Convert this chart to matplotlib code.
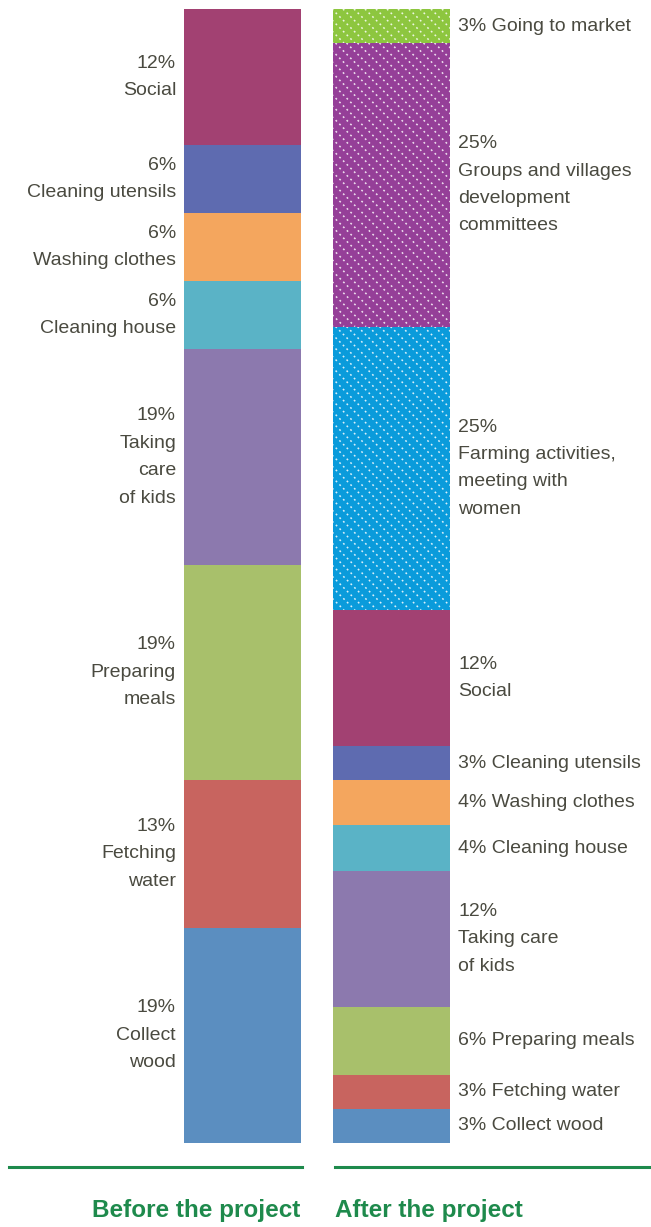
import matplotlib
matplotlib.use('Agg')
import matplotlib.pyplot as plt
from matplotlib.lines import Line2D
import numpy as np

# данные, снизу вверх
before_labels = ['Collect\nwood', 'Fetching\nwater', 'Preparing\nmeals', 'Taking\ncare\nof kids',
                 'Cleaning house', 'Washing clothes', 'Cleaning utensils', 'Social']
before_values = [19, 13, 19, 19, 6, 6, 6, 12]
before_colors = ['#5b8ec0', '#c8645f', '#a8c06b', '#8c79ae', '#5ab3c6', '#f4a65e', '#5e6bb0', '#a24172']

after_labels = ['Collect wood', 'Fetching water', 'Preparing meals', 'Taking care\nof kids',
                'Cleaning house', 'Washing clothes', 'Cleaning utensils', 'Social',
                'Farming activities,\nmeeting with\nwomen',
                'Groups and villages\ndevelopment\ncommittees', 'Going to market']
after_values = [3, 3, 6, 12, 4, 4, 3, 12, 25, 25, 3]
after_colors = ['#5b8ec0', '#c8645f', '#a8c06b', '#8c79ae', '#5ab3c6', '#f4a65e', '#5e6bb0', '#a24172',
                '#0a9bdb', '#953f98', '#8dc63f']
after_hatched = [False] * 8 + [True, True, True]

text_color = '#4a4a40'
green = '#1e8a4c'
font = ['Liberation Sans', 'DejaVu Sans']
fs = 14

fig = plt.figure(figsize=(6.51, 12.27), dpi=100)
ax = fig.add_axes([0, 0, 1, 1])
xpx, ypx = 149.0, 11.34  # пикселей на единицу данных
ax.set_xlim(-242.5 / xpx, 1 + 259.5 / xpx)
ax.set_ylim(-84 / ypx, 100 + 9 / ypx)
ax.axis('off')

w = 117 / xpx
gap = 8 / xpx


def dotted_hatch(rect):
    # белые пунктирные диагонали как в оригинале
    x0, y0 = rect.get_x(), rect.get_y()
    x1, y1 = x0 + rect.get_width(), y0 + rect.get_height()
    hpx = (y1 - y0) * ypx
    wpx = (x1 - x0) * xpx
    for s in np.arange(-hpx, wpx + hpx, 11):
        xs = np.array([s, s + hpx]) / xpx + x0
        ys = np.array([y1, y0])
        ln, = ax.plot(xs, ys, color='white', lw=1.1, alpha=0.85,
                      linestyle=(0, (1.2, 2.2)))
        ln.set_clip_path(rect)


# до проекта
bottom = 0
for lab, v, c in zip(before_labels, before_values, before_colors):
    ax.bar(0, v, width=w, bottom=bottom, color=c, linewidth=0)
    ax.text(-w / 2 - gap, bottom + v / 2, f'{v}%\n{lab}', ha='right', va='center',
            family=font, fontsize=fs, color=text_color, linespacing=1.8)
    bottom += v

# после проекта
bottom = 0
for lab, v, c, h in zip(after_labels, after_values, after_colors, after_hatched):
    bars = ax.bar(1, v, width=w, bottom=bottom, color=c, linewidth=0)
    if h:
        dotted_hatch(bars[0])
    if v >= 10:
        txt = f'{v}%\n{lab}'
    else:
        txt = f'{v}% {lab}'
    ax.text(1 + w / 2 + gap, bottom + v / 2, txt, ha='left', va='center',
            family=font, fontsize=fs, color=text_color, linespacing=1.8)
    bottom += v

# нижние линии и подписи
yl = 1 - 1167 / 1227
fig.add_artist(Line2D([9 / 651, 302 / 651], [yl, yl], color=green, lw=2.2))
fig.add_artist(Line2D([335 / 651, 650 / 651], [yl, yl], color=green, lw=2.2))
fig.text(300 / 651, 1 - 1211 / 1227, 'Before the project', ha='right', va='center',
         family=font, fontsize=17.5, fontweight='bold', color=green)
fig.text(335 / 651, 1 - 1211 / 1227, 'After the project', ha='left', va='center',
         family=font, fontsize=17.5, fontweight='bold', color=green)

fig.savefig('out.png', dpi=100)
